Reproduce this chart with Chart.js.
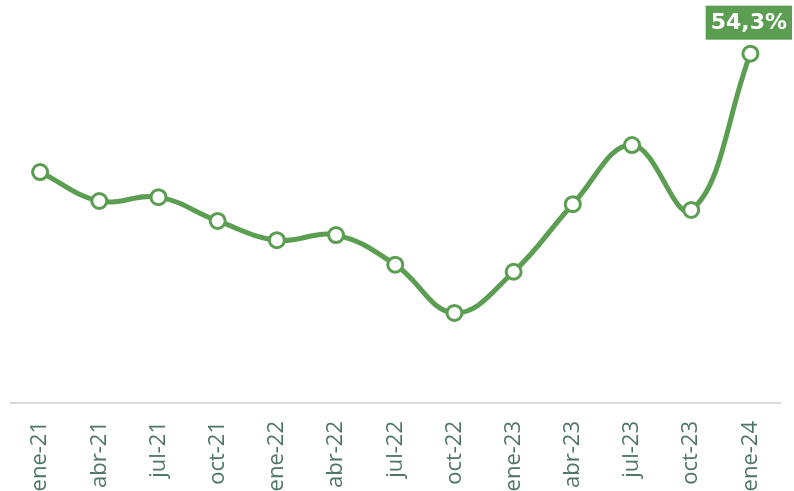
<!DOCTYPE html>
<html>
<head>
<meta charset="utf-8">
<script src="https://cdn.jsdelivr.net/npm/chart.js@4"></script>
<style>
  html, body { margin: 0; padding: 0; background: #fff; overflow: hidden; }
  #wrap { width: 794px; height: 491px; }
</style>
</head>
<body>
<div id="wrap"><canvas id="chart" width="794" height="491"></canvas></div>
<script>
const labels = ['ene-21', 'abr-21', 'jul-21', 'oct-21', 'ene-22', 'abr-22', 'jul-22',
                'oct-22', 'ene-23', 'abr-23', 'jul-23', 'oct-23', 'ene-24'];
const values = [35.9, 31.4, 32.0, 28.3, 25.3, 26.1, 21.5, 14.0, 20.4, 30.9, 40.1, 30.0, 54.3];
const lastLabel = '54,3%';

const green = '#5b9d51';

// green box with the value above the last point
const lastValueLabel = {
  id: 'lastValueLabel',
  afterDatasetsDraw(chart) {
    const meta = chart.getDatasetMeta(0);
    const pt = meta.data[meta.data.length - 1];
    const ctx = chart.ctx;
    ctx.save();
    ctx.font = 'bold 22px "DejaVu Sans", Verdana, sans-serif';
    const w = ctx.measureText(lastLabel).width + 10;
    const h = 34;
    const cx = Math.min(pt.x, chart.width - w / 2 - 2);
    const top = pt.y - 48;
    ctx.fillStyle = green;
    ctx.fillRect(cx - w / 2, top, w, h);
    ctx.fillStyle = '#fff';
    ctx.textAlign = 'center';
    ctx.textBaseline = 'middle';
    ctx.fillText(lastLabel, cx, top + h / 2 + 1);
    ctx.restore();
  }
};

new Chart(document.getElementById('chart'), {
  type: 'line',
  data: {
    labels: labels,
    datasets: [{
      data: values,
      borderColor: green,
      borderWidth: 5,
      tension: 0.4,
      pointRadius: 7.5,
      pointBorderWidth: 3,
      pointBackgroundColor: '#fff',
      pointBorderColor: green
    }]
  },
  options: {
    responsive: false,
    animation: false,
    layout: { padding: { top: 17, left: 10, right: 14, bottom: 0 } },
    plugins: { legend: { display: false }, tooltip: { enabled: false } },
    scales: {
      x: {
        offset: true,
        grid: { display: false },
        border: { display: true, color: '#d9d9d9', width: 2 },
        ticks: {
          minRotation: 90,
          maxRotation: 90,
          autoSkip: false,
          padding: 10,
          color: '#4f7566',
          font: { family: '"Open Sans", "Noto Sans", sans-serif', size: 22 }
        },
        afterFit(scale) { scale.height = 88; }
      },
      y: {
        display: false,
        min: 0,
        max: 60
      }
    }
  },
  plugins: [lastValueLabel]
});
</script>
</body>
</html>
